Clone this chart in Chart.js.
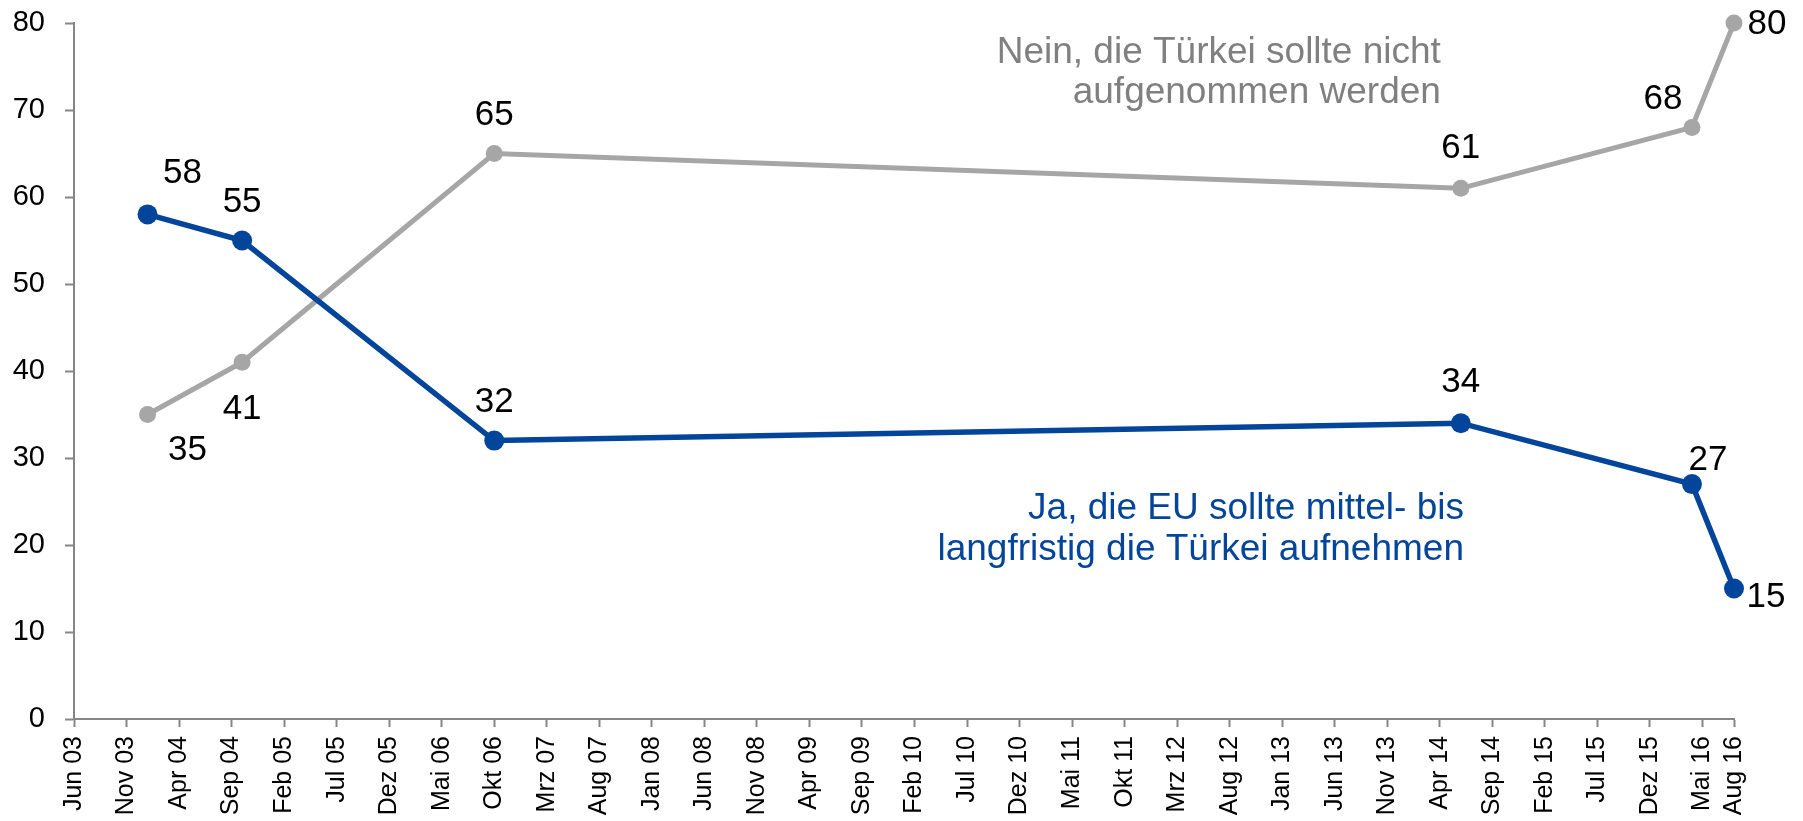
<!DOCTYPE html>
<html>
<head>
<meta charset="utf-8">
<script src="https://cdn.jsdelivr.net/npm/chart.js@4/dist/chart.umd.min.js"></script>
<style>
  html, body { margin: 0; padding: 0; background: #fff; }
  #wrap { width: 1803px; height: 821px; position: relative; }
</style>
</head>
<body>
<div id="wrap"><canvas id="turkeyChart"></canvas></div>
<script>
// Survey: Should the EU admit Turkey?
const tickLabels = ['Jun 03', 'Nov 03', 'Apr 04', 'Sep 04', 'Feb 05', 'Jul 05', 'Dez 05', 'Mai 06',
    'Okt 06', 'Mrz 07', 'Aug 07', 'Jan 08', 'Jun 08', 'Nov 08', 'Apr 09', 'Sep 09', 'Feb 10',
    'Jul 10', 'Dez 10', 'Mai 11', 'Okt 11', 'Mrz 12', 'Aug 12', 'Jan 13', 'Jun 13', 'Nov 13',
    'Apr 14', 'Sep 14', 'Feb 15', 'Jul 15', 'Dez 15', 'Mai 16', 'Aug 16'];
const surveyDates = ['Jan 04', 'Okt 04', 'Okt 06', 'Jun 14', 'Apr 16', 'Aug 16'];
const jaValues = [58, 55, 32, 34, 27, 15];
const neinValues = [35, 41, 65, 61, 68, 80];
const jaText = ['Ja, die EU sollte mittel- bis', 'langfristig die Türkei aufnehmen'];
const neinText = ['Nein, die Türkei sollte nicht', 'aufgenommen werden'];

const FONT = "'Liberation Sans', Arial, sans-serif";
const BLUE = '#03459A';
const GREY = '#A6A6A6';
const AXIS = '#868686';

const MONTHS = { Jan: 0, Feb: 1, Mrz: 2, Apr: 3, Mai: 4, Jun: 5, Jul: 6, Aug: 7, Sep: 8, Okt: 9, Nov: 10, Dez: 11 };
// months since Jun 03
function monthIndex(label) {
    const [m, y] = label.split(' ');
    return (Number(y) - 3) * 12 + MONTHS[m] - 5;
}

const toPoints = (vals) => surveyDates.map((d, i) => ({ x: monthIndex(d), y: vals[i] }));

// value label placement [dx to text centre, dy to baseline], per point
const jaLabelOffsets = [[35, -31], [0, -29], [0, -29], [0, -31], [16, -14], [32, 18]];
const neinLabelOffsets = [[40, 45], [0, 57], [0, -29], [0, -30], [-29, -18], [33, 11]];

const labelPlugin = {
    id: 'valueLabels',
    afterDatasetsDraw(chart) {
        const { ctx, scales } = chart;
        ctx.save();
        ctx.fillStyle = '#000';
        ctx.font = `35px ${FONT}`;
        ctx.textAlign = 'center';
        ctx.textBaseline = 'alphabetic';
        chart.data.datasets.forEach((ds, di) => {
            const meta = chart.getDatasetMeta(di);
            meta.data.forEach((el, i) => {
                const [dx, dy] = ds.labelOffsets[i];
                ctx.fillText(String(ds.data[i].y), el.x + dx, el.y + dy);
            });
        });

        // series captions, anchored in data units (right edge, first baseline)
        const captions = [
            { lines: neinText, color: '#808080', x: 130.1, y: 75.4, gap: 40 },
            { lines: jaText, color: BLUE, x: 132.3, y: 23.0, gap: 41 }
        ];
        ctx.textAlign = 'right';
        ctx.font = `37px ${FONT}`;
        captions.forEach(c => {
            ctx.fillStyle = c.color;
            const px = scales.x.getPixelForValue(c.x);
            const py = scales.y.getPixelForValue(c.y);
            c.lines.forEach((line, li) => ctx.fillText(line, px, py + li * c.gap));
        });
        ctx.restore();
    }
};

new Chart(document.getElementById('turkeyChart'), {
    type: 'line',
    data: {
        datasets: [{
            label: 'Ja',
            data: toPoints(jaValues),
            borderColor: BLUE,
            backgroundColor: BLUE,
            borderWidth: 5.5,
            pointRadius: 10,
            pointBorderWidth: 0,
            tension: 0,
            clip: false,
            labelOffsets: jaLabelOffsets
        }, {
            label: 'Nein',
            data: toPoints(neinValues),
            borderColor: GREY,
            backgroundColor: GREY,
            borderWidth: 5,
            pointRadius: 8.5,
            pointBorderWidth: 0,
            tension: 0,
            clip: false,
            labelOffsets: neinLabelOffsets
        }]
    },
    options: {
        responsive: true,
        maintainAspectRatio: false,
        animation: false,
        layout: { padding: { top: 23, right: 69, left: 0, bottom: 0 } },
        plugins: {
            legend: { display: false },
            tooltip: { enabled: false }
        },
        scales: {
            x: {
                type: 'linear',
                min: 0,
                max: monthIndex('Aug 16'),
                afterBuildTicks: (axis) => {
                    axis.ticks = tickLabels.map(l => ({ value: monthIndex(l) }));
                },
                afterFit: (axis) => {
                    axis.height = 102;
                    axis.paddingLeft = 0;
                    axis.paddingRight = 0;
                },
                ticks: {
                    autoSkip: false,
                    minRotation: 90,
                    maxRotation: 90,
                    padding: 9,
                    color: '#000',
                    font: { family: FONT, size: 25 },
                    callback: (value, index) => tickLabels[index]
                },
                grid: { drawOnChartArea: false, drawTicks: true, tickLength: 8, tickWidth: 2, color: AXIS },
                border: { display: true, color: AXIS, width: 2 }
            },
            y: {
                min: 0,
                max: 80,
                afterFit: (axis) => {
                    axis.width = 74;
                    axis.paddingTop = 0;
                    axis.paddingBottom = 0;
                },
                ticks: {
                    stepSize: 10,
                    padding: 20,
                    color: '#000',
                    font: { family: FONT, size: 29 }
                },
                grid: { drawOnChartArea: false, drawTicks: true, tickLength: 9, tickWidth: 2, color: AXIS },
                border: { display: true, color: AXIS, width: 2 }
            }
        }
    },
    plugins: [labelPlugin]
});
</script>
</body>
</html>
